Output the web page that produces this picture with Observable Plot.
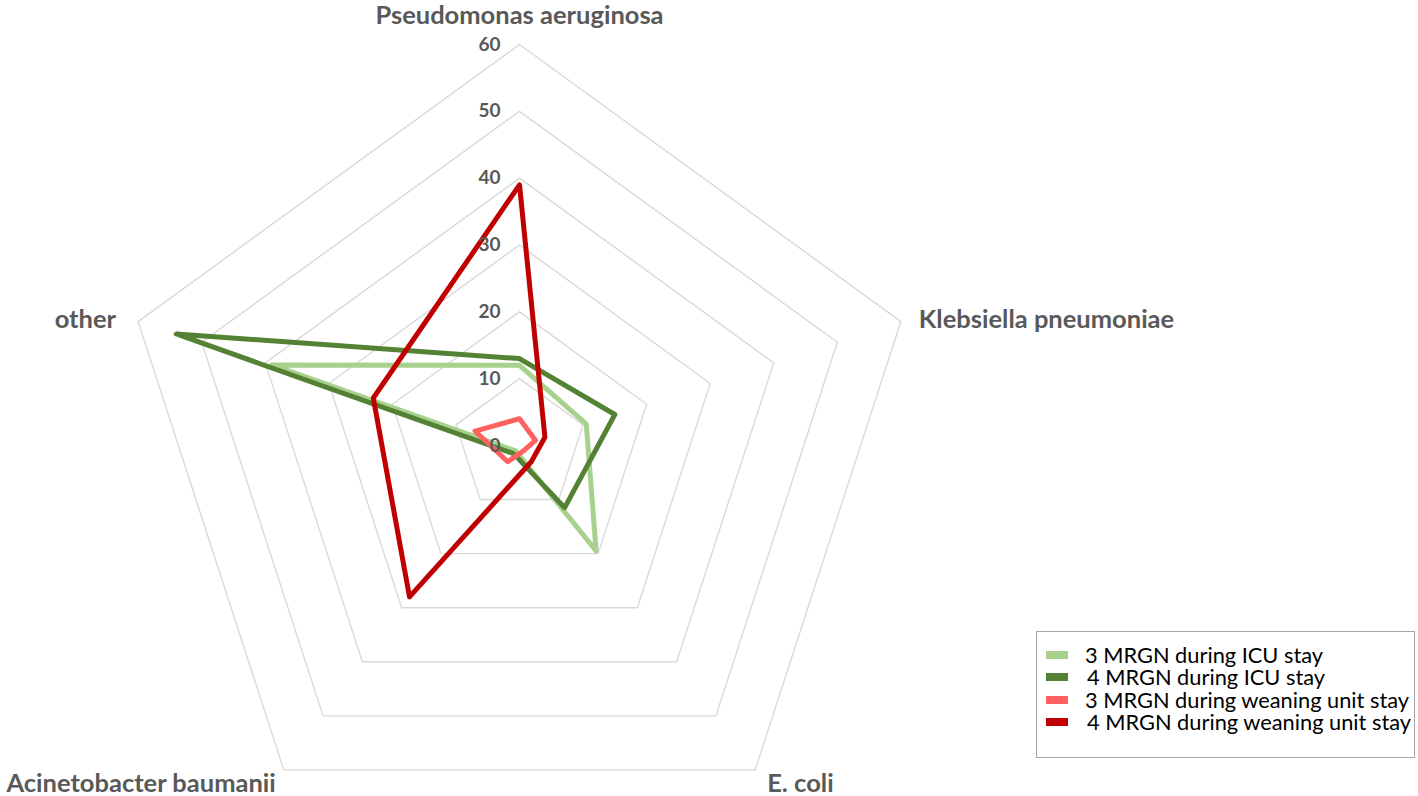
<!DOCTYPE html>
<html>
<head>
<meta charset="utf-8">
<script src="https://cdn.jsdelivr.net/npm/d3@7"></script>
<script src="https://cdn.jsdelivr.net/npm/@observablehq/plot@0.6"></script>
<style>
  html, body { margin: 0; padding: 0; background: #fff; }
  #wrap { position: relative; width: 1418px; height: 796px; overflow: hidden; }
  #legend { position: absolute; left: 1036px; top: 631px; width: 379px; height: 127px;
    border: 1.5px solid #a6a6a6; box-sizing: border-box; font-family: Lato, "Open Sans", sans-serif;
    font-size: 21.8px; color: #000; }
  .item { position: absolute; left: 0; height: 22px; }
  .sw { position: absolute; left: 9px; width: 22px; height: 8px; }
  .lab { position: absolute; left: 48px; top: 0; white-space: nowrap; line-height: 22px; }
</style>
</head>
<body>
<div id="wrap"><div id="chart"></div><div id="legend"></div></div>
<script>
const categories = ["Pseudomonas aeruginosa", "Klebsiella pneumoniae", "E. coli", "Acinetobacter baumanii", "other"];
const seriesNames = ["3 MRGN during ICU stay", "4 MRGN during ICU stay", "3 MRGN during weaning unit stay", "4 MRGN during weaning unit stay"];
const icu3 = [12, 10.5, 19.5, 1, 39];
const icu4 = [13, 15, 11.5, 1.5, 54];
const wean3 = [4, 2.5, 1, 3, 7];
const wean4 = [39, 4, 3, 28, 23];
const ticks = [0, 10, 20, 30, 40, 50, 60];
const colors = ["#a9d18e", "#548235", "#ff6161", "#c00000"];

const seriesValues = [icu3, icu4, wean3, wean4];
const n = categories.length;
const ang = i => (2 * Math.PI * i) / n;
const px = (v, i) => v * Math.sin(ang(i));
const py = (v, i) => v * Math.cos(ang(i));

const rows = [];
seriesValues.forEach((vals, s) => vals.forEach((v, i) => rows.push({series: seriesNames[s], i, v})));

const rings = [];
ticks.filter(t => t > 0).forEach(t => categories.forEach((c, i) => rings.push({t, i})));

const maxV = d3.max(ticks);
const catRows = categories.map((c, i) => ({c, i}));

// label layout: offset from the outer ring vertex and anchor
const labelLayout = [
  {dx: 0, dy: -29, anchor: "middle"},
  {dx: 18, dy: -2, anchor: "start"},
  {dx: 12, dy: 14, anchor: "start"},
  {dx: -8, dy: 14, anchor: "end"},
  {dx: -22, dy: -2, anchor: "end"}
];

const chart = Plot.plot({
  width: 1418,
  height: 796,
  margin: 0,
  x: {domain: [-60, 60], range: [519 - 401, 519 + 401], axis: null},
  y: {domain: [-60, 60], range: [445 + 401, 445 - 401], axis: null},
  color: {domain: seriesNames, range: colors},
  style: {fontFamily: "Lato, 'Open Sans', sans-serif", overflow: "visible"},
  marks: [
    Plot.line(rings, {x: d => px(d.t, d.i), y: d => py(d.t, d.i), z: "t", curve: "linear-closed",
      stroke: "#d9d9d9", strokeWidth: 1.4}),
    Plot.line(rows, {x: d => px(d.v, d.i), y: d => py(d.v, d.i), z: "series", stroke: "series",
      curve: "linear-closed", strokeWidth: 5, strokeLinejoin: "round"}),
    Plot.text(ticks, {x: 0, y: d => d, text: d => String(d), dx: -19, textAnchor: "end",
      fontSize: 19, fontWeight: "bold", fill: "#595959"}),
    Plot.text(catRows, {
      x: d => px(maxV, d.i), y: d => py(maxV, d.i), text: "c",
      fontSize: 25.5, fontWeight: "bold", fill: "#595959",
      render: (index, scales, values, dims, context, next) => {
        const g = next(index, scales, values, dims, context);
        d3.select(g).selectAll("text").each(function(_, k) {
          const i = index[k];
          const L = labelLayout[i];
          d3.select(this)
            .attr("transform", `translate(${values.x[i] + L.dx},${values.y[i] + L.dy})`)
            .attr("text-anchor", L.anchor);
        });
        return g;
      }
    })
  ]
});
document.getElementById("chart").appendChild(chart);

const legend = document.getElementById("legend");
const tops = [12, 34, 57, 79];
const lefts = [48, 50, 48, 50];
seriesNames.forEach((s, k) => {
  const it = document.createElement("div");
  it.className = "item";
  it.style.top = tops[k] + "px";
  it.innerHTML = `<div class="sw" style="background:${colors[k]};top:7px"></div><div class="lab" style="left:${lefts[k]}px">${s}</div>`;
  legend.appendChild(it);
});
</script>
</body>
</html>
